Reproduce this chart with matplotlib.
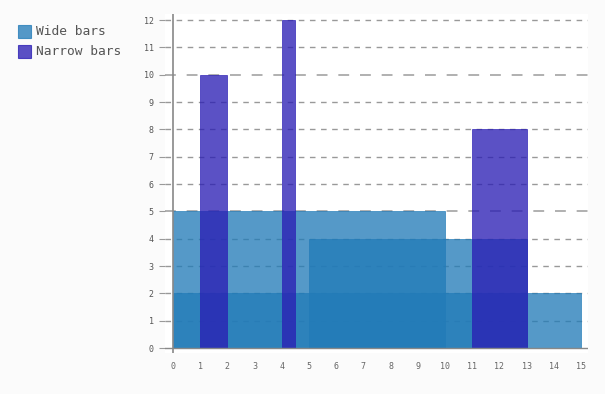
import matplotlib
matplotlib.use("Agg")
import matplotlib.pyplot as plt
from matplotlib.patches import Rectangle

series_names = ["Wide bars", "Narrow bars"]
wide_heights = [5, 4, 2]
wide_starts = [0, 5, 0]
wide_ends = [10, 13, 15]
narrow_heights = [10, 12, 8]
narrow_starts = [1, 4, 11]
narrow_ends = [2, 4.5, 13]
x_ticks = list(range(0, 16))
y_ticks = list(range(0, 13))

colors = ["#227bb8", "#2a1db4"]
alpha = 0.77

W, H = 605, 394
fig = plt.figure(figsize=(W / 100, H / 100), dpi=100)
fig.patch.set_facecolor("#fbfbfb")

# plot area in pixels
px_left, px_right, px_top, px_bottom = 165, 588, 14, 353
ax = fig.add_axes([px_left / W, 1 - px_bottom / H, (px_right - px_left) / W, (px_bottom - px_top) / H])
ax.set_facecolor("white")
ax.set_xlim(-0.29, 15.26)
ax.set_ylim(-0.18, 12.22)

for h, s, e in zip(wide_heights, wide_starts, wide_ends):
    ax.bar(s, h, width=e - s, align="edge", color=colors[0], alpha=alpha, linewidth=0.6,
           edgecolor=colors[0], zorder=2)
for h, s, e in zip(narrow_heights, narrow_starts, narrow_ends):
    ax.bar(s, h, width=e - s, align="edge", color=colors[1], alpha=alpha, linewidth=0.6,
           edgecolor=colors[1], zorder=3)

# grid lines
for y in y_ticks[1:]:
    major = (y % 5 == 0)
    ax.axhline(y, color="#999999" if not major else "#aaaaaa", lw=1.0 if not major else 1.3,
               ls=(0, (4, 4)) if not major else (0, (6, 6)), zorder=1.5)
ax.axhline(0, color="#888888", lw=1.0, zorder=4)
ax.axvline(0, color="#888888", lw=1.2, zorder=4, ymin=0, ymax=1)

for sp in ax.spines.values():
    sp.set_visible(False)

mono = "DejaVu Sans Mono"
ax.set_xticks(x_ticks)
ax.set_xticklabels([str(t) for t in x_ticks], fontsize=6, color="#666666", family=mono)
ax.set_yticks(y_ticks)
ax.set_yticklabels([str(t) for t in y_ticks], fontsize=6, color="#555555", family=mono)
ax.tick_params(axis="x", length=0, pad=6.5)
ax.tick_params(axis="y", length=4, width=0.8, color="#999999", pad=4)

# legend
for i, name in enumerate(series_names):
    y0 = 25 + i * 20
    fig.patches.append(Rectangle((18 / W, 1 - (y0 + 13) / H), 13 / W, 13 / H,
                                 transform=fig.transFigure, facecolor=colors[i], alpha=alpha,
                                 edgecolor=colors[i], lw=0.8))
    fig.text(36 / W, 1 - (y0 + 6.5) / H, name, fontsize=9.3, color="#555555", family=mono,
             va="center", ha="left")

fig.savefig("out.png", dpi=100, facecolor=fig.get_facecolor())
